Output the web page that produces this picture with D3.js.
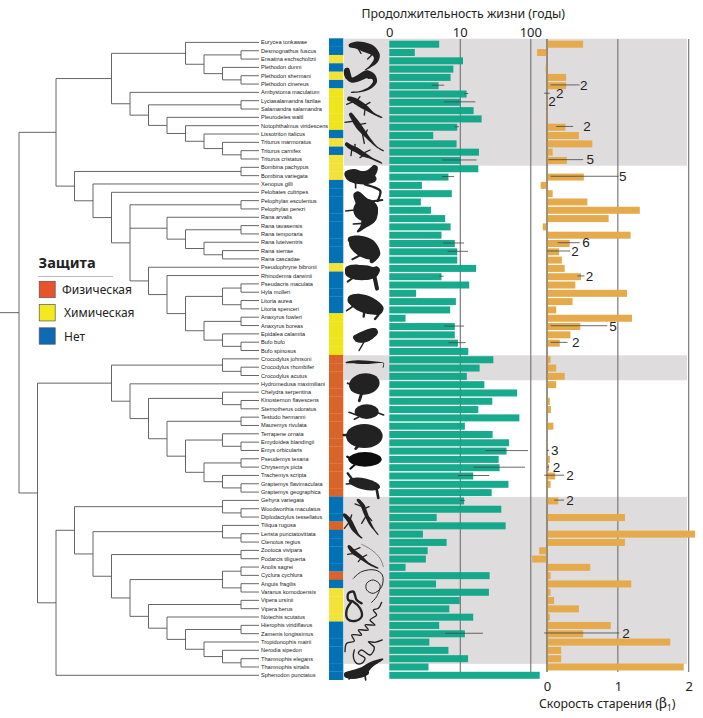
<!DOCTYPE html>
<html>
<head>
<meta charset="utf-8">
<script src="https://cdn.jsdelivr.net/npm/d3@7"></script>
<style>
  html, body { margin: 0; padding: 0; background: #fff; }
  svg { display: block; }
  text { font-family: "Noto Sans", sans-serif; fill: #222; }
  .species { font-family: "Liberation Sans", sans-serif; font-size: 5.6px; }
  .count { font-family: "Liberation Sans", sans-serif; font-size: 13.5px; }
</style>
</head>
<body>
<svg id="chart" width="703" height="718"></svg>
<script>
const species = [
  "Eurycea tonkawae", "Desmognathus fuscus", "Ensatina eschscholtzii", "Plethodon dunni",
  "Plethodon shermani", "Plethodon cinereus", "Ambystoma maculatum", "Lyciasalamandra fazilae",
  "Salamandra salamandra", "Pleurodeles waltl", "Notophthalmus viridescens", "Lissotriton italicus",
  "Triturus marmoratus", "Triturus carnifex", "Triturus cristatus", "Bombina pachypus",
  "Bombina variegata", "Xenopus gilli", "Pelobates cultripes", "Pelophylax esculentus",
  "Pelophylax perezi", "Rana arvalis", "Rana tavasensis", "Rana temporaria",
  "Rana luteiventris", "Rana sierrae", "Rana cascadae", "Pseudophryne bibronii",
  "Rhinoderma darwinii", "Pseudacris maculata", "Hyla molleri", "Litoria aurea",
  "Litoria spenceri", "Anaxyrus fowleri", "Anaxyrus boreas", "Epidalea calamita",
  "Bufo bufo", "Bufo spinosus", "Crocodylus johnsoni", "Crocodylus rhombifer",
  "Crocodylus acutus", "Hydromedusa maximiliani", "Chelydra serpentina", "Kinosternon flavescens",
  "Sternotherus odoratus", "Testudo hermanni", "Mauremys rivulata", "Terrapene ornata",
  "Emydoidea blandingii", "Emys orbicularis", "Pseudemys texana", "Chrysemys picta",
  "Trachemys scripta", "Graptemys flavimaculata", "Graptemys geographica", "Gehyra variegata",
  "Woodworthia maculatus", "Diplodactylus tessellatus", "Tiliqua rugosa", "Lerista punctatovittata",
  "Ctenotus regius", "Zootoca vivipara", "Podarcis tiliguerta", "Anolis sagrei",
  "Cyclura cychlura", "Anguis fragilis", "Varanus komodoensis", "Vipera ursinii",
  "Vipera berus", "Notechis scutatus", "Hierophis viridiflavus", "Zamenis longissimus",
  "Tropidonophis mairii", "Nerodia sipedon", "Thamnophis elegans", "Thamnophis sirtalis",
  "Sphenodon punctatus"
];

const lifespan = [
  5.1, 2.3, 11.1, 8.1, 7.4, 5.0, 12.5, 10.3, 15.7, 20.4, 9.2, 4.2, 9.0, 18.7, 10.3, 18.3,
  6.9, 2.9, 7.7, 2.8, 3.9, 6.2, 7.4, 5.5, 8.5, 9.2, 9.2, 17.0, 5.5, 13.6, 2.4, 8.8,
  7.3, 1.7, 8.5, 8.5, 9.4, 13.2, 29.9, 19.1, 12.6, 22.3, 65, 28.9, 18.3, 70, 11.8, 29.2,
  50, 46, 35.6, 36.7, 15.5, 49, 28.3, 11.5, 38.8, 4.7, 44.7, 3.0, 6.5, 3.5, 3.3, 1.7,
  26.5, 4.6, 25.9, 10, 7.1, 15.5, 5.1, 11.8, 3.7, 6.9, 13.1, 3.6, 136
];

const agingRate = [
  0.51, -0.14, -0.01, -0.02, 0.27, 0.27, 0.01, 0.01, 0.01, 0.01, 0.26, 0.45, 0.64, 0.08, 0.28, 0,
  0.52, -0.09, 0.08, 0.57, 1.31, 0.87, -0.06, 1.18, 0.32, 0.17, 0.21, 0.25, 0.48, 0.40, 1.13, 0.36,
  0.13, 1.20, 0.47, 0.33, 0.18, 0, 0.05, 0.13, 0.25, 0.13, 0, 0.04, 0.055, 0, 0.09, 0,
  0.01, 0.01, 0.04, 0.03, 0.115, 0.05, 0.01, 0.16, 0, 1.10, 0, 2.09, 1.10, -0.11, -0.21, 0.61,
  0.05, 1.19, 0.05, 0.10, 0.45, 0.04, 0.90, 0.51, 1.74, 0.20, 0.20, 1.93, null
];

// 0 physical, 1 chemical, 2 none
const defenceNames = ["Физическая", "Химическая", "Нет"];
const defence = [
  2, 2, 1, 2, 1, 2, 1, 1, 1, 1, 1, 2, 1, 2, 1, 1, 1,
  2, 2, 2, 2, 2, 2, 2, 2, 2, 2, 1, 2, 2, 2, 2, 2, 1, 1, 1, 1, 1,
  0, 0, 0, 0, 0, 0, 0, 0, 0, 0, 0, 0, 0, 0, 0, 0, 0,
  2, 2, 2, 0, 2, 2, 2, 2, 2, 0, 2, 1, 1, 1, 1, 2, 2, 2, 2, 2, 2, 2
];
// the strip prints a paler yellow on these rows
const paleRows = [2, 4, 12, 14, 15, 16, 27, 66, 67, 68, 69];

// row, low, high
const lifespanErrors = [
  [5, 4.0, 6.0], [6, 11.5, 13.2], [7, 6.0, 16.6], [10, 8.4, 9.7], [14, 5.6, 17.3], [16, 5.6, 8.3],
  [24, 5.8, 11.5], [25, 6.7, 13.1], [28, 5.1, 5.9], [34, 6.0, 11.5], [36, 6.9, 12.1],
  [49, 23, 92.7], [51, 15.7, 84], [52, 9.4, 26.2], [55, 10, 11.8], [71, 6.2, 21.3]
];
const agingErrors = [
  [5, 0.05, 0.46], [6, -0.04, 0.04], [10, 0.13, 0.37], [14, 0.02, 0.51], [16, 0.05, 1.01],
  [24, 0.15, 0.46], [25, 0, 0.325], [28, 0.43, 0.53], [34, 0.05, 0.85], [36, 0.05, 0.29],
  [49, 0, 0.03], [51, 0, 0.03], [52, -0.04, 0.24], [55, 0.10, 0.24], [71, -0.04, 1.02]
];
// row, number written next to the bar, where on the rate axis it is written
const agingCounts = [
  [5, 2, 0.52], [6, 2, 0.18], [7, 2, 0.07], [10, 2, 0.565], [14, 5, 0.61], [16, 5, 1.07],
  [24, 6, 0.55], [25, 2, 0.395], [28, 2, 0.60], [34, 5, 0.93], [36, 2, 0.405],
  [49, 3, 0.11], [51, 2, 0.135], [52, 2, 0.325], [55, 2, 0.325], [71, 2, 1.115]
];

// grey bands, first and last row
const bands = [[0, 14], [38, 40], [55, 75]];

const lifespanTicks = [1, 10, 100];
const lifespanTickLabels = ["0", "10", "100"];
const agingTicks = [0, 1, 2];

// [depth level, ...children], a number is a row in species
const tree = [0,
  [2,
    [5,
      [9, 0, [10, [12, 1, 2], [11, 3, [12, 4, 5]]]],
      [6, 6, [7, [12, 7, 8], [8, 9, [9, 10, [10, 11, [11, 12, [12, 13, 14]]]]]]]
    ],
    [3,
      [12, 15, 16],
      [4, 17, [5, 18,
        [6,
          [12, 19, 20],
          [8, 21, [9, [12, 22, 23], [10, 24, [11, 25, 26]]]],
          [7, 27, [8, 28, [9,
            [11, [12, 29, 30], [12, 31, 32]],
            [10, [12, 33, 34], [11, 35, [12, 36, 37]]]
          ]]]
        ]
      ]]
    ]
  ],
  [1,
    [5,
      [11, 38, [12, 39, 40]],
      [6, 41, [7,
        [11, 42, [12, 43, 44]],
        [8, [12, 45, 46], [9,
          [11, 47, [12, 48, 49]],
          [10, [12, 50, 51], [11, 52, [12, 53, 54]]]
        ]]
      ]]
    ],
    [2,
      [3,
        [11, 55, [12, 56, 57]],
        [4,
          [11, 58, [12, 59, 60]],
          [5,
            [12, 61, 62],
            [6,
              [11, [12, 63, 64], [12, 65, 66]],
              [7, [12, 67, 68], [8, 69, [9, [12, 70, 71], [10, 72, [11, 73, [12, 74, 75]]]]]]
            ]
          ]
        ]
      ],
      76
    ]
  ]
];

const svg = d3.select("#chart");
const gridTop = 39, gridBottom = 672;
const n = species.length;

const rows = d3.range(n);
const yTip = d3.scaleLinear().domain([0, n - 1]).range([42.4, 675.3]);
const yBar = d3.scaleLinear().domain([0, n - 1]).range([44.2, 675.3]);
const yStrip = d3.scaleBand().domain(rows).range([38.3, 679.8]);
const xLevel = d3.scaleLinear().domain([0, 12]).range([19, 241]);
const xLife = d3.scaleLog().domain([1, 100]).range([389.3, 530.3]);
const xAging = d3.scaleLinear().domain([0, 2]).range([547, 688.7]);
const defenceColor = d3.scaleOrdinal().domain([0, 1, 2]).range(["#d9642a", "#eee51c", "#0271b6"]);
const legendColor = d3.scaleOrdinal().domain([0, 1, 2]).range(["#e8532a", "#f2ea1e", "#0f69b4"]);

// grey bands
svg.append("g").selectAll("rect").data(bands).join("rect")
  .attr("x", 344)
  .attr("width", 343)
  .attr("y", d => yStrip(d[0]) + 0.4)
  .attr("height", d => d[0] === 0 ? 127 : yStrip(d[1]) + yStrip.step() - yStrip(d[0]) - (d[0] === 55 ? 8 : 0))
  .attr("fill", "#dfdcdd");

// defence strip
svg.append("g").selectAll("rect").data(rows).join("rect")
  .attr("x", 329)
  .attr("width", 14.3)
  .attr("y", d => yStrip(d))
  .attr("height", yStrip.step() + 0.2)
  .attr("fill", d => paleRows.includes(d) ? "#f3e339" : defenceColor(defence[d]));

// phylogeny
const root = d3.hierarchy(tree, d => Array.isArray(d) ? d.slice(1) : null);
root.eachAfter(node => {
  if (node.children) {
    node.level = node.data[0];
    node.py = (node.children[0].py + node.children[node.children.length - 1].py) / 2;
  } else {
    node.level = null;
    node.py = yTip(node.data);
  }
});
const nodeX = node => node.level === null ? 259 : xLevel(node.level);

const branches = [];
root.each(node => {
  if (node.children) {
    const first = node.children[0], last = node.children[node.children.length - 1];
    branches.push(`M${nodeX(node)},${first.py}V${last.py}`);
    node.children.forEach(c => branches.push(`M${nodeX(node)},${c.py}H${nodeX(c)}`));
  }
});
branches.push(`M0,${root.py}H${nodeX(root)}`);
svg.append("path")
  .attr("d", branches.join(""))
  .attr("fill", "none")
  .attr("stroke", "#555")
  .attr("stroke-width", 0.9);

svg.append("g").selectAll("text").data(rows).join("text")
  .attr("class", "species")
  .attr("x", 261)
  .attr("y", d => yTip(d) + 2)
  .text(d => species[d]);

// axes, their ticks are the grid lines
const lifeAxis = d3.axisTop(xLife)
  .tickValues(lifespanTicks)
  .tickFormat((d, i) => lifespanTickLabels[i])
  .tickSize(gridBottom - gridTop)
  .tickPadding(0);
const agingAxis = d3.axisBottom(xAging)
  .tickValues(agingTicks)
  .tickFormat(d3.format("d"))
  .tickSize(0);

const gLife = svg.append("g").attr("transform", `translate(0,${gridBottom})`).call(lifeAxis);
gLife.select(".domain").remove();
gLife.selectAll(".tick line").attr("stroke", "#6f6f6f").attr("stroke-width", 1.1)
  .filter(d => d === 1).remove();
gLife.selectAll(".tick text")
  .attr("y", gridTop - gridBottom - 2.5)
  .style("font-size", "13px")
  .style("font-family", '"Noto Sans", sans-serif')
  .style("fill", "#222");

svg.append("g").selectAll("line").data(agingTicks).join("line")
  .attr("x1", d => xAging(d))
  .attr("x2", d => xAging(d))
  .attr("y1", gridTop)
  .attr("y2", gridBottom)
  .attr("stroke", "#6f6f6f")
  .attr("stroke-width", 1.1);

// bars
svg.append("g").selectAll("rect").data(rows).join("rect")
  .attr("x", xLife(1))
  .attr("width", d => xLife(lifespan[d]) - xLife(1))
  .attr("y", d => yBar(d) - 3.5)
  .attr("height", 7)
  .attr("fill", "#0aa586")
  .attr("fill-opacity", 0.94);

svg.append("g").selectAll("rect").data(rows.filter(d => agingRate[d] !== null && agingRate[d] !== 0)).join("rect")
  .attr("x", d => xAging(Math.min(0, agingRate[d])))
  .attr("width", d => Math.abs(xAging(agingRate[d]) - xAging(0)))
  .attr("y", d => yBar(d) - 3.5)
  .attr("height", 7)
  .attr("fill", "#e5aa4b");

svg.append("line")
  .attr("x1", xAging(0)).attr("x2", xAging(0))
  .attr("y1", gridTop).attr("y2", gridBottom)
  .attr("stroke", "#77705f")
  .attr("stroke-width", 0.9);

// error whiskers
svg.append("g").selectAll("line").data(lifespanErrors).join("line")
  .attr("x1", d => xLife(d[1]))
  .attr("x2", d => xLife(d[2]))
  .attr("y1", d => yBar(d[0]) - 0.5)
  .attr("y2", d => yBar(d[0]) - 0.5)
  .attr("stroke", "#444")
  .attr("stroke-width", 0.8);
svg.append("g").selectAll("line").data(agingErrors).join("line")
  .attr("x1", d => xAging(d[1]))
  .attr("x2", d => xAging(d[2]))
  .attr("y1", d => yBar(d[0]) - 0.8)
  .attr("y2", d => yBar(d[0]) - 0.8)
  .attr("stroke", "#444")
  .attr("stroke-width", 0.8);
svg.append("g").selectAll("text").data(agingCounts).join("text")
  .attr("class", "count")
  .attr("text-anchor", "middle")
  .attr("x", d => xAging(d[2]))
  .attr("y", d => yBar(d[0]) + 4)
  .text(d => d[1]);

// rate axis labels
const gAging = svg.append("g").attr("transform", "translate(0,680)").call(agingAxis);
gAging.select(".domain").remove();
gAging.selectAll(".tick line").remove();
gAging.selectAll(".tick text")
  .attr("y", 2)
  .style("font-size", "13px")
  .style("font-family", '"Noto Sans", sans-serif')
  .style("fill", "#222");

// titles
svg.append("text")
  .attr("x", 361.5)
  .attr("y", 18)
  .style("font-size", "12.3px")
  .text("Продолжительность жизни (годы)");

const rateTitle = svg.append("text")
  .attr("x", 539)
  .attr("y", 708)
  .style("font-size", "12.3px")
  .text("Скорость старения (");
rateTitle.append("tspan").style("font-family", '"DejaVu Serif", serif').style("font-size", "14px").text("β");
rateTitle.append("tspan").attr("dy", 3).style("font-size", "8px").text("1");
rateTitle.append("tspan").attr("dy", -3).text(")");

// legend
svg.append("text")
  .attr("x", 38.5)
  .attr("y", 268)
  .style("font-size", "14.6px")
  .style("font-weight", 700)
  .text("Защита");
svg.append("line")
  .attr("x1", 38).attr("x2", 113)
  .attr("y1", 276.5).attr("y2", 276.5)
  .attr("stroke", "#bbb")
  .attr("stroke-width", 1.2);
const legendY = d3.scalePoint().domain([0, 1, 2]).range([289.5, 336]);
svg.append("g").selectAll("rect").data([0, 1, 2]).join("rect")
  .attr("x", 39.2)
  .attr("y", d => legendY(d) - 8.2)
  .attr("width", 16)
  .attr("height", 16.4)
  .attr("fill", d => legendColor(d))
  .attr("stroke", "#555")
  .attr("stroke-width", 0.7);
svg.append("g").selectAll("text").data([0, 1, 2]).join("text")
  .attr("x", d => d === 0 ? 62 : 64)
  .attr("y", d => legendY(d) + 4.5)
  .style("font-size", "12px")
  .text(d => defenceNames[d]);

// silhouettes, each group in its own local units
const closed = d3.line().curve(d3.curveCatmullRomClosed.alpha(0.5));
const open = d3.line().curve(d3.curveCatmullRom.alpha(0.5));

function ribbon(spine) {
  const left = [], right = [];
  spine.forEach((p, i) => {
    const a = spine[Math.max(0, i - 1)], b = spine[Math.min(spine.length - 1, i + 1)];
    const dx = b[0] - a[0], dy = b[1] - a[1], l = Math.hypot(dx, dy) || 1;
    left.push([p[0] - dy / l * p[2], p[1] + dx / l * p[2]]);
    right.push([p[0] + dy / l * p[2], p[1] - dx / l * p[2]]);
  });
  return closed(left.concat(right.reverse()));
}

const ink = "#222";
function crop(y0) {
  return svg.append("g").attr("transform", `translate(325,${y0}) scale(0.3333)`);
}
function limb(g, pts, w, color) {
  g.append("path").attr("d", open(pts)).attr("fill", "none").attr("stroke", color || ink)
    .attr("stroke-width", w).attr("stroke-linecap", "round").attr("stroke-linejoin", "round");
}
function body(g, spine) {
  g.append("path").attr("d", ribbon(spine)).attr("fill", ink);
}
function shell(g, cx, cy, rx, ry, rot, color) {
  g.append("ellipse").attr("rx", rx).attr("ry", ry)
    .attr("transform", `translate(${cx},${cy}) rotate(${rot || 0})`)
    .attr("fill", color || ink);
}

const c7 = crop(35);
body(c7, [[72,32,4],[90,30,10],[115,35,14],[140,45,14],[155,62,10],[152,78,7],[135,95,3],[120,105,1]]);
limb(c7, [[100,42],[108,55]], 4);
limb(c7, [[140,60],[128,72]], 4);
body(c7, [[65,100,6],[68,120,10],[80,135,8],[105,127,10],[125,118,12],[145,125,8],[150,140,6],[135,158,4],[105,170,2],[78,172,1]]);
limb(c7, [[75,130],[62,128]], 4);
limb(c7, [[130,130],[150,128]], 4);
body(c7, [[68,190,5],[85,195,8],[105,207,9],[125,220,7],[145,235,3],[172,248,1]]);
limb(c7, [[85,200],[65,208]], 4);
limb(c7, [[95,198],[105,185]], 4);
limb(c7, [[120,222],[118,240]], 4);
limb(c7, [[118,212],[135,202]], 4);
body(c7, [[75,235,4],[85,250,7],[100,272,9],[118,295,7],[135,315,4],[155,335,2],[177,348,1]]);
limb(c7, [[90,258],[60,262]], 4);
limb(c7, [[105,268],[122,265]], 4);
limb(c7, [[112,295],[118,325]], 4);
limb(c7, [[122,295],[127,285]], 4);
body(c7, [[62,325,4],[75,335,7],[95,345,8],[115,358,7],[140,370,3],[172,385,1]]);
limb(c7, [[80,345],[78,362]], 4);
limb(c7, [[90,340],[90,328]], 4);
limb(c7, [[118,360],[105,368]], 4);
limb(c7, [[120,352],[135,345]], 4);
// frog
shell(c7, 108, 428, 47, 20, 5);
body(c7, [[60,418,7],[85,417,15],[110,428,19],[135,418,15],[148,402,11],[152,392,6]]);
limb(c7, [[120,448],[150,458],[166,468],[158,498]], 7);
limb(c7, [[92,442],[92,458]], 5);

const c8 = crop(200);
shell(c8, 122, 30, 37, 34);
body(c8, [[92,-22,8],[110,5,19],[130,30,29],[130,55,23],[112,82,7],[97,96,2]]);
limb(c8, [[130,5],[172,0]], 6);
limb(c8, [[88,30],[62,33]], 4);
limb(c8, [[115,70],[85,72]], 5);
shell(c8, 118, 145, 50, 28, 28);
body(c8, [[70,118,6],[100,122,16],[130,140,24],[150,165,16],[138,188,4]]);
limb(c8, [[112,162],[82,178]], 6);
shell(c8, 110, 218, 50, 23);
body(c8, [[62,210,9],[90,212,19],[120,220,20],[148,216,15],[160,204,7]]);
limb(c8, [[148,228],[156,266]], 12);
limb(c8, [[92,228],[68,245]], 6);
shell(c8, 120, 314, 52, 25, 20);
body(c8, [[70,298,9],[100,302,21],[135,315,23],[170,334,12]]);
limb(c8, [[118,335],[116,350]], 7);
limb(c8, [[85,318],[65,332]], 5);
limb(c8, [[160,345],[150,357]], 7);
shell(c8, 118, 410, 32, 17, -15);
body(c8, [[85,412,4],[110,412,15],[135,402,16],[156,392,7]]);
limb(c8, [[116,428],[102,452]], 4);
// crocodile
body(c8, [[62,488,1],[95,486,5],[130,487,5],[160,487,2],[176,490,1],[174,503,1]]);

const c9 = crop(360);
shell(c9, 118, 72, 46, 32, -8);
limb(c9, [[110,100],[103,122]], 9);
limb(c9, [[84,75],[68,70]], 6);
shell(c9, 125, 155, 36, 22);
limb(c9, [[150,155],[176,165]], 5);
limb(c9, [[95,165],[72,157]], 5);
limb(c9, [[100,172],[88,178]], 5);
shell(c9, 118, 228, 55, 36);
limb(c9, [[75,226],[56,225]], 7);
limb(c9, [[102,255],[92,266]], 8);
shell(c9, 120, 298, 50, 22, 0, "#0d0d0d");
limb(c9, [[80,298],[67,290]], 7, "#0d0d0d");
limb(c9, [[92,312],[76,326]], 6, "#0d0d0d");
shell(c9, 118, 372, 48, 17, 12);
limb(c9, [[88,366],[68,340]], 7);
limb(c9, [[85,370],[64,372]], 5);
limb(c9, [[155,388],[160,414]], 8);
// geckos
body(c9, [[97,418,3],[112,435,6],[122,460,6],[135,490,4],[148,510,2],[160,525,1]]);
limb(c9, [[112,440],[90,432]], 4);
limb(c9, [[120,445],[132,440]], 4);
limb(c9, [[122,470],[110,490]], 4);
limb(c9, [[130,470],[140,482]], 4);
body(c9, [[55,462,3],[72,480,7],[85,505,7],[100,525,3],[112,535,1]]);
limb(c9, [[70,490],[58,505]], 4);
limb(c9, [[76,478],[80,465]], 4);

const c10 = crop(515);
body(c10, [[70,92,3],[85,110,7],[105,125,6],[130,145,3],[160,160,1]]);
limb(c10, [[88,115],[68,118]], 4);
limb(c10, [[88,105],[105,98]], 4);
limb(c10, [[110,128],[100,140]], 4);
limb(c10, [[115,125],[125,120]], 4);
limb(c10, [[110,88],[140,105],[165,130],[175,155]], 1.5);
// snakes
limb(c10, [[85,190],[110,170],[150,165],[172,180],[170,215],[145,235],[125,225],[125,205],[145,195],[165,210],[155,245],[140,262]], 3);
limb(c10, [[110,265],[95,255],[85,230],[70,235],[70,255],[85,260],[105,280],[110,305],[90,318],[68,312],[65,285],[78,262]], 7);
limb(c10, [[170,262],[160,280],[145,285],[155,300],[135,315],[150,330],[120,330],[130,345],[100,345],[110,360],[80,360],[88,378],[65,385],[60,410]], 4);
limb(c10, [[172,375],[150,382],[130,380],[148,398],[135,420],[110,405],[100,415],[120,430],[110,445],[95,445],[85,425],[88,405]], 4);
// tuatara
shell(c10, 95, 478, 38, 13, -8);
body(c10, [[58,478,4],[85,478,13],[115,468,13],[140,448,8],[175,432,1]]);
limb(c10, [[120,480],[122,495]], 5);
limb(c10, [[78,486],[72,492]], 5);
</script>
</body>
</html>
